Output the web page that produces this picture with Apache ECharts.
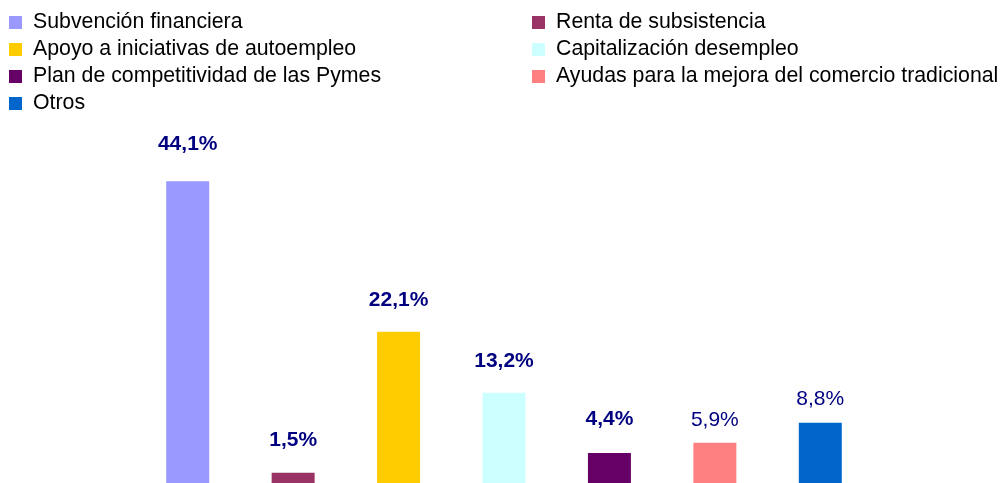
<!DOCTYPE html>
<html>
<head>
<meta charset="utf-8">
<script src="https://cdn.jsdelivr.net/npm/echarts@6/dist/echarts.min.js"></script>
<style>
  html,body{margin:0;padding:0;background:#fff;}
  #chart{width:1004px;height:483px;}
</style>
</head>
<body>
<div id="chart"></div>
<script>
// datos
var categorias = ['Subvención financiera','Renta de subsistencia','Apoyo a iniciativas de autoempleo','Capitalización desempleo','Plan de competitividad de las Pymes','Ayudas para la mejora del comercio tradicional','Otros'];
var valores = [44.1, 1.5, 22.1, 13.2, 4.4, 5.9, 8.8];
var colores = ['#9999FF','#993366','#FFCC00','#CCFFFF','#660066','#FF8080','#0066CC'];
var negrita = [true, true, true, true, true, false, false];
var distancias = [27, 22, 21, 21, 23, 12, 13];

var leyendaIzq = [categorias[0], categorias[2], categorias[4], categorias[6]];
var leyendaDer = [categorias[1], categorias[3], categorias[5]];

var chart = echarts.init(document.getElementById('chart'));

var series = [];
for (var i = 0; i < categorias.length; i++) {
  var datos = [];
  for (var j = 0; j < categorias.length; j++) {
    datos.push(j == i ? valores[i] : '-');
  }
  series.push({
    name: categorias[i],
    type: 'bar',
    data: datos,
    barWidth: 43,
    barGap: '-100%',
    itemStyle: {color: colores[i]},
    label: {
      show: true,
      position: 'top',
      distance: distancias[i],
      color: '#000080',
      fontFamily: 'Liberation Sans, Arial, sans-serif',
      fontSize: 21,
      fontWeight: negrita[i] ? 'bold' : 'normal',
      formatter: function (p) { return p.value.toFixed(1).replace('.', ',') + '%'; }
    }
  });
}

var estiloLeyenda = {
  orient: 'vertical',
  icon: 'rect',
  padding: 0,
  itemWidth: 13,
  itemHeight: 13,
  itemGap: 6,
  top: 12,
  textStyle: {
    fontFamily: 'Liberation Sans, Arial, sans-serif',
    fontSize: 21.3,
    lineHeight: 21,
    color: '#000',
    padding: [0, 0, 0, 6]
  }
};

var option = {
  animation: false,
  legend: [
    Object.assign({left: 9, data: leyendaIzq}, estiloLeyenda),
    Object.assign({left: 532, data: leyendaDer}, estiloLeyenda)
  ],
  grid: {left: 135, right: 131, top: 141, bottom: -2},
  xAxis: {
    type: 'category',
    data: categorias,
    show: false
  },
  yAxis: {
    type: 'value',
    min: 0,
    max: 50,
    show: false
  },
  series: series
};

chart.setOption(option);
</script>
</body>
</html>
